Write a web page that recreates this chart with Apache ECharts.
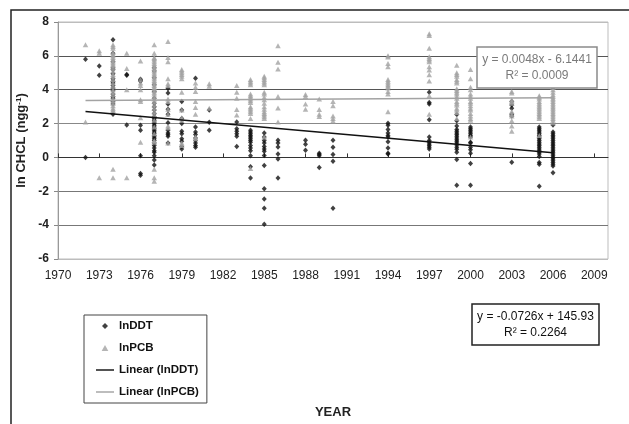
<!DOCTYPE html>
<html>
<head>
<meta charset="utf-8">
<script src="https://cdn.jsdelivr.net/npm/echarts@6/dist/echarts.min.js"></script>
<style>
html,body{margin:0;padding:0;background:#fff;}
#chart{width:629px;height:424px;}
</style>
</head>
<body>
<div id="chart"></div>
<script>
// ---- Data ----
const xTicks = [1970, 1973, 1976, 1979, 1982, 1985, 1988, 1991, 1994, 1997, 2000, 2003, 2006, 2009];
const yTicks = [-6, -4, -2, 0, 2, 4, 6, 8];

const ddtByYear = [
  [1972, [5.8, 0.0]],
  [1973, [5.4, 4.85]],
  [1974, [6.95, 6.15, 5.65, 5.3, 5.2, 4.95, 4.65, 4.5, 4.4, 4.25, 4.1, 3.95, 3.75, 3.6, 3.5, 3.3, 3.15, 2.55]],
  [1975, [4.9, 4.85, 1.92]],
  [1976, [4.62, 4.55, 4.5, 1.9, 1.6, 0.1, -0.95, -1.05]],
  [1977, [5.3, 5.1, 4.7, 4.3, 3.9, 3.5, 3.2, 3.0, 2.8, 2.6, 2.4, 2.3, 2.2, 2.1, 2.0, 1.9, 1.8, 1.7, 1.6, 1.5, 1.4, 1.3, 1.2, 1.1, 1.0, 0.85, 0.7, 0.55, 0.4, 0.3, 0.1, -0.15, -0.45]],
  [1978, [4.07, 3.8, 3.15, 2.85, 2.55, 2.05, 1.6, 1.45, 1.35, 1.25, 0.85]],
  [1979, [3.3, 2.8, 2.3, 2.0, 1.55, 1.4, 1.1, 0.95, 0.65, 0.5]],
  [1980, [4.68, 1.8, 1.5, 1.35, 1.15, 1.0, 0.85, 0.7, 0.6]],
  [1981, [2.8, 2.08, 1.6]],
  [1983, [2.1, 1.7, 1.55, 1.4, 1.25, 0.65]],
  [1984, [1.6, 1.5, 1.4, 1.3, 1.2, 1.1, 1.0, 0.9, 0.7, 0.55, 0.4, 0.1, -0.55, -1.22]],
  [1985, [1.45, 1.2, 1.0, 0.85, 0.65, 0.5, 0.37, 0.12, -0.48, -1.85, -2.45, -3.0, -3.95]],
  [1986, [1.02, 0.85, 0.62, 0.2, -0.1, -1.22]],
  [1988, [1.02, 0.78, 0.42]],
  [1989, [0.25, 0.18, 0.1, -0.6]],
  [1990, [1.02, 0.6, 0.18, -0.22, -3.0]],
  [1994, [2.02, 1.9, 1.65, 1.45, 1.3, 1.2, 0.92, 0.55, 0.24, 0.2]],
  [1997, [3.85, 3.25, 3.15, 2.22, 1.2, 1.0, 0.9, 0.8, 0.7, 0.6, 0.5]],
  [1999, [2.53, 2.17, 1.86, 1.65, 1.55, 1.45, 1.35, 1.25, 1.15, 1.05, 0.95, 0.85, 0.73, 0.6, 0.48, 0.3, -0.12, -1.65]],
  [2000, [1.8, 1.7, 1.6, 1.5, 1.4, 1.3, 1.2, 0.9, 0.85, 0.6, 0.45, 0.24, -0.36, -1.65]],
  [2003, [3.3, 3.1, 2.9, 2.55, 2.45, -0.28]],
  [2005, [1.8, 1.7, 1.6, 1.5, 1.4, 1.3, 1.2, 1.1, 1.0, 0.9, 0.8, 0.7, 0.6, 0.5, 0.4, 0.3, 0.2, 0.05, -0.3, -0.4, -1.7]],
  [2006, [1.92, 1.5, 1.4, 1.3, 1.2, 1.1, 1.0, 0.9, 0.8, 0.7, 0.6, 0.5, 0.4, 0.3, 0.2, 0.1, 0.0, -0.1, -0.2, -0.3, -0.4, -0.5, -0.9]]
];

const pcbByYear = [
  [1972, [6.65, 2.1]],
  [1973, [6.3, 6.15, -1.2]],
  [1974, [6.65, 6.55, 6.45, 6.2, 6.1, 6.0, 5.9, 5.8, 5.7, 5.6, 5.5, 5.4, 5.3, 5.1, 4.9, 4.8, 4.6, 4.4, 4.2, 4.0, 3.85, 3.7, 3.5, 3.35, 3.2, 3.05, 2.9, 2.8, 2.75, -0.7, -1.2]],
  [1975, [6.15, 5.25, 4.0, -1.2]],
  [1976, [5.7, 4.6, 4.4, 4.25, 4.0, 3.4, 3.3, 2.35, 0.9]],
  [1977, [6.65, 6.15, 5.9, 5.85, 5.75, 5.65, 5.55, 5.45, 5.35, 5.25, 5.15, 5.05, 4.95, 4.85, 4.75, 4.65, 4.55, 4.45, 4.35, 4.25, 4.15, 4.05, 3.95, 3.85, 3.75, 3.6, 3.45, 3.3, 3.1, 2.9, 2.7, 2.5, 2.2, 1.8, 1.4, 1.0, 0.9, -0.7, -1.2, -1.4]],
  [1978, [6.85, 5.9, 5.65, 4.65, 4.35, 4.25, 3.45, 3.3, 2.85, 2.55, 1.85, 1.75, 0.85]],
  [1979, [5.2, 5.1, 5.0, 4.9, 4.8, 4.65, 3.85, 2.8, 2.35, 2.2, 0.85, 0.7]],
  [1980, [4.4, 4.15, 3.9, 3.3, 2.95, 2.55, 1.2, 1.1]],
  [1981, [4.35, 4.2, 2.9]],
  [1983, [4.25, 3.85, 3.5, 2.83, 2.5]],
  [1984, [4.6, 4.5, 4.4, 4.3, 3.75, 3.65, 3.55, 3.45, 3.35, 3.25, 3.0, 2.9, 2.8, 2.7, 2.6, 2.3, -0.65]],
  [1985, [4.8, 4.7, 4.6, 4.5, 4.4, 4.3, 3.85, 3.75, 3.55, 3.4, 3.2, 3.0, 2.85, 2.7, 2.6, 2.5, 2.4, 2.3, 1.2]],
  [1986, [6.6, 5.62, 5.22, 3.6, 2.92, 2.1]],
  [1988, [3.72, 3.6, 3.15, 2.85]],
  [1989, [3.45, 2.83, 2.55, 2.42]],
  [1990, [3.3, 3.05, 2.45, 2.3, 2.15]],
  [1994, [6.0, 5.93, 5.55, 5.35, 4.6, 4.5, 4.4, 4.3, 4.2, 4.1, 3.9, 3.75, 2.7]],
  [1997, [7.3, 7.2, 6.45, 5.95, 5.85, 5.75, 5.65, 5.35, 5.17, 4.88, 4.52, 3.65, 2.55]],
  [1999, [5.45, 5.0, 4.9, 4.8, 4.6, 4.5, 4.4, 4.05, 3.95, 3.85, 3.75, 3.6, 3.5, 3.3, 3.2, 3.1, 2.9, 2.8, 2.65, 2.3]],
  [2000, [5.2, 4.65, 4.15, 4.0, 3.75, 3.6, 3.5, 3.3, 3.2, 3.05, 2.9, 2.8, 2.6, 2.45, 2.3, 2.2, 1.2]],
  [2003, [5.25, 4.88, 4.27, 3.9, 3.8, 3.4, 3.3, 3.2, 2.72, 2.55, 2.45, 2.17, 1.86, 1.55]],
  [2005, [5.05, 4.8, 4.5, 3.65, 3.55, 3.45, 3.3, 3.2, 3.1, 3.0, 2.9, 2.8, 2.7, 2.6, 2.5, 2.4, 2.3, 1.3]],
  [2006, [5.0, 4.8, 4.7, 4.55, 4.15, 4.0, 3.85, 3.7, 3.6, 3.5, 3.4, 3.3, 3.2, 3.1, 3.0, 2.9, 2.8, 2.7, 2.6, 2.5, 2.4, 2.3, 2.2, 2.05]]
];

// Trend line end points (as drawn in the reference)
const ddtTrend = [[1972, 2.72], [2006, 0.28]];
const pcbTrend = [[1972, 3.36], [2006, 3.52]];

const seriesNames = ['lnDDT', 'lnPCB', 'Linear (lnDDT)', 'Linear (lnPCB)'];
const pcbEquation = ['y = 0.0048x - 6.1441', 'R² = 0.0009'];
const ddtEquation = ['y = -0.0726x + 145.93', 'R² = 0.2264'];
const yAxisTitle = 'ln CHCL (ngg{sup|-1})';
const xAxisTitle = 'YEAR';

// ---- Build chart ----
const FONT = '"Liberation Sans", Arial, sans-serif';
const flatten = rows => rows.flatMap(([yr, vals]) => vals.map(v => [yr, v]));
const LINE_ICON = 'path://M0,0 L20,0 L20,1.6 L0,1.6 Z';
const DIAMOND_ICON = 'path://M5,0 L10,5 L5,10 L0,5 Z';
const TRIANGLE_ICON = 'path://M5,0 L10,9 L0,9 Z';

const chart = echarts.init(document.getElementById('chart'), null, { renderer: 'canvas' });

const option = {
  backgroundColor: '#fff',
  animation: false,
  textStyle: { fontFamily: FONT },
  grid: {
    left: 58, right: 21, top: 22, bottom: 14,
    show: true, borderColor: '#bdbdbd', borderWidth: 1, backgroundColor: 'transparent'
  },
  legend: {
    orient: 'vertical',
    left: 84, top: 315,
    symbolKeepAspect: true,
    data: [
      { name: seriesNames[0], icon: DIAMOND_ICON },
      { name: seriesNames[1], icon: TRIANGLE_ICON },
      { name: seriesNames[2], icon: LINE_ICON },
      { name: seriesNames[3], icon: LINE_ICON }
    ],
    itemWidth: 18, itemHeight: 6, itemGap: 8,
    padding: [4, 8, 4, 12],
    borderColor: '#444', borderWidth: 1, backgroundColor: '#fff',
    selectedMode: false,
    textStyle: { fontFamily: FONT, fontWeight: 'bold', fontSize: 11.5, color: '#111', lineHeight: 14 }
  },
  xAxis: {
    type: 'value', min: 1970, max: 2010, interval: 3,
    axisLine: { show: true, onZero: true, lineStyle: { color: '#333', width: 1 } },
    axisTick: { show: true, inside: true, length: 4, lineStyle: { color: '#333' } },
    axisLabel: { showMaxLabel: false, margin: 11, fontSize: 12, color: '#222', fontFamily: FONT,
      formatter: v => xTicks.includes(v) ? String(v) : '' },
    splitLine: { show: false },
    name: xAxisTitle, nameLocation: 'middle', nameGap: 147,
    nameTextStyle: { fontWeight: 'bold', fontSize: 13, color: '#222', fontFamily: FONT }
  },
  yAxis: {
    type: 'value', min: yTicks[0], max: yTicks[yTicks.length - 1], interval: 2,
    axisLine: { show: true, onZero: false, lineStyle: { color: '#999', width: 1 } },
    axisTick: { show: true, inside: false, length: 4, lineStyle: { color: '#888' } },
    axisLabel: { margin: 9, fontSize: 12, fontWeight: 'bold', color: '#222', fontFamily: FONT },
    splitLine: { show: true, lineStyle: { width: 1,
      color: ['#bdbdbd', '#777', '#777', '#444', '#888', '#555', '#555', '#bdbdbd'] } },
    name: yAxisTitle, nameLocation: 'middle', nameRotate: 90, nameGap: 30,
    nameTextStyle: { fontWeight: 'bold', fontSize: 13, color: '#222', fontFamily: FONT,
      rich: { sup: { fontSize: 8, fontWeight: 'bold', color: '#222', verticalAlign: 'top', fontFamily: FONT } } }
  },
  series: [
    {
      name: seriesNames[0], type: 'scatter', data: flatten(ddtByYear),
      symbol: 'diamond', symbolSize: [5, 5.5],
      itemStyle: { color: '#111' }, z: 2, silent: true
    },
    {
      name: seriesNames[1], type: 'scatter', data: flatten(pcbByYear),
      symbol: 'triangle', symbolSize: [5.5, 5],
      itemStyle: { color: '#a3a3a3' }, z: 3, silent: true
    },
    {
      name: seriesNames[2], type: 'line', data: ddtTrend, symbol: 'none', showSymbol: false,
      lineStyle: { color: '#111', width: 1.5 }, itemStyle: { color: '#111' }, z: 4, silent: true
    },
    {
      name: seriesNames[3], type: 'line', data: pcbTrend, symbol: 'none', showSymbol: false,
      lineStyle: { color: '#a3a3a3', width: 1.5 }, itemStyle: { color: '#a3a3a3' }, z: 4, silent: true
    }
  ],
  graphic: [
    { type: 'rect', z: 100, silent: true,
      shape: { x: 11, y: 10, width: 640, height: 440 },
      style: { fill: 'none', stroke: '#222', lineWidth: 1.5 } },
    { type: 'rect', z: 100, silent: true, shape: { x: 477, y: 47, width: 120, height: 41 },
      style: { fill: '#fff', stroke: '#8a8a8a', lineWidth: 1.5 } },
    { type: 'text', z: 101, silent: true, style: { x: 537, y: 60, text: pcbEquation[0], textAlign: 'center', textVerticalAlign: 'middle',
      font: '12px ' + FONT, fill: '#7a7a7a' } },
    { type: 'text', z: 101, silent: true, style: { x: 537, y: 76, text: pcbEquation[1], textAlign: 'center', textVerticalAlign: 'middle',
      font: '12px ' + FONT, fill: '#7a7a7a' } },
    { type: 'rect', z: 100, silent: true, shape: { x: 472, y: 304, width: 127, height: 41 },
      style: { fill: '#fff', stroke: '#222', lineWidth: 1.5 } },
    { type: 'text', z: 101, silent: true, style: { x: 535.5, y: 317, text: ddtEquation[0], textAlign: 'center', textVerticalAlign: 'middle',
      font: '12px ' + FONT, fill: '#111' } },
    { type: 'text', z: 101, silent: true, style: { x: 535.5, y: 333, text: ddtEquation[1], textAlign: 'center', textVerticalAlign: 'middle',
      font: '12px ' + FONT, fill: '#111' } }
  ]
};

chart.setOption(option);
</script>
</body>
</html>
